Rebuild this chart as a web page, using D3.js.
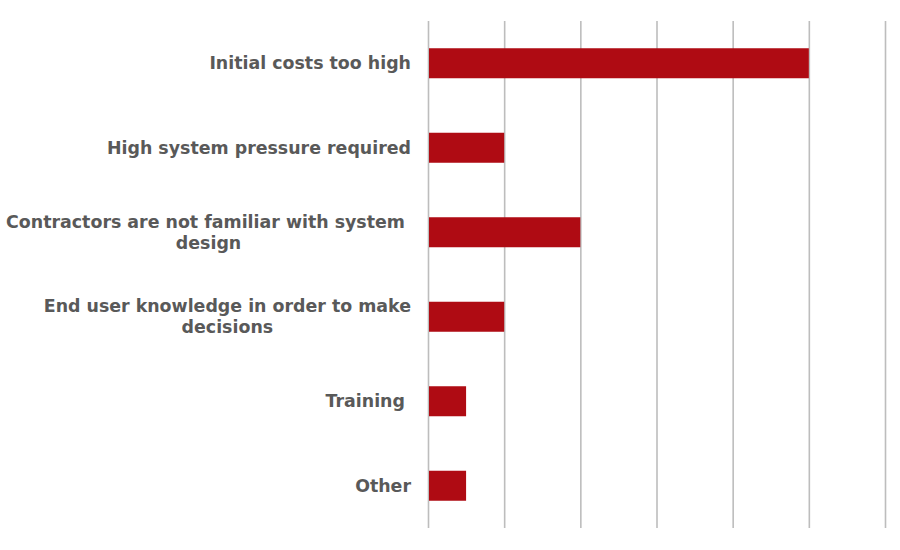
<!DOCTYPE html>
<html>
<head>
<meta charset="utf-8">
<script src="https://cdn.jsdelivr.net/npm/d3@7"></script>
<style>
  body { margin: 0; background: #fff; }
  svg text { white-space: pre; }
</style>
</head>
<body>
<div id="chart"></div>
<script>
// data
var categories = [
  "Initial costs too high",
  "High system pressure required",
  "Contractors are not familiar with system design",
  "End user knowledge in order to make decisions",
  "Training ",
  "Other"
];
// label lines as they are wrapped in the original
var labelLines = [
  ["Initial costs too high"],
  ["High system pressure required"],
  ["Contractors are not familiar with system ", "design"],
  ["End user knowledge in order to make", "decisions"],
  ["Training "],
  ["Other"]
];
var values = [5, 1, 2, 1, 0.5, 0.5];
var tickValues = [0, 1, 2, 3, 4, 5, 6];

var width = 900;
var height = 550;
var margin = { top: 21, right: 15, bottom: 22, left: 428 };

var svg = d3.select("#chart")
  .append("svg")
  .attr("width", width)
  .attr("height", height);

var x = d3.scaleLinear()
  .domain([0, 6])
  .range([margin.left, width - margin.right]);

var y = d3.scaleBand()
  .domain(categories)
  .range([margin.top, height - margin.bottom])
  .paddingInner(0.645)
  .paddingOuter(0.3225);

// gridlines
var xAxis = d3.axisBottom(x).tickValues(tickValues).tickSize(-(height - margin.top - margin.bottom)).tickFormat("");
svg.append("g")
  .attr("transform", "translate(0," + (height - margin.bottom) + ")")
  .call(xAxis)
  .call(function(g) {
    g.select(".domain").remove();
    g.selectAll(".tick line").attr("stroke", "#bdbdbd").attr("stroke-width", 1.6);
  });

// bars
svg.selectAll("rect.bar")
  .data(categories)
  .enter()
  .append("rect")
  .attr("class", "bar")
  .attr("x", x(0) + 1)
  .attr("y", function(d) { return y(d); })
  .attr("width", function(d, i) { return x(values[i]) - x(0) - 1; })
  .attr("height", y.bandwidth())
  .attr("fill", "#AF0B13");

// labels: block right-aligned, lines centered within the block
var labelRight = 411;
var lineHeight = 21;
var fontSize = 17.4;

var measure = svg.append("text")
  .style("font-family", "'DejaVu Sans', Verdana, sans-serif")
  .style("font-weight", "bold")
  .style("font-size", fontSize + "px");
function textWidth(s) {
  measure.text(s);
  return measure.node().getComputedTextLength();
}

categories.forEach(function(cat, k) {
  var lines = labelLines[k];
  var blockWidth = d3.max(lines, textWidth);
  var cx = labelRight - blockWidth / 2;
  var cy = y(cat) + y.bandwidth() / 2;
  var startY = cy - (lines.length - 1) * lineHeight / 2;

  var t = svg.append("text")
    .attr("text-anchor", "middle")
    .attr("fill", "#595959")
    .style("font-family", "'DejaVu Sans', Verdana, sans-serif")
    .style("font-weight", "bold")
    .style("font-size", fontSize + "px");
  lines.forEach(function(line, i) {
    t.append("tspan")
      .attr("x", cx)
      .attr("y", startY + i * lineHeight)
      .attr("dy", "0.35em")
      .text(line);
  });
});
measure.remove();
</script>
</body>
</html>
